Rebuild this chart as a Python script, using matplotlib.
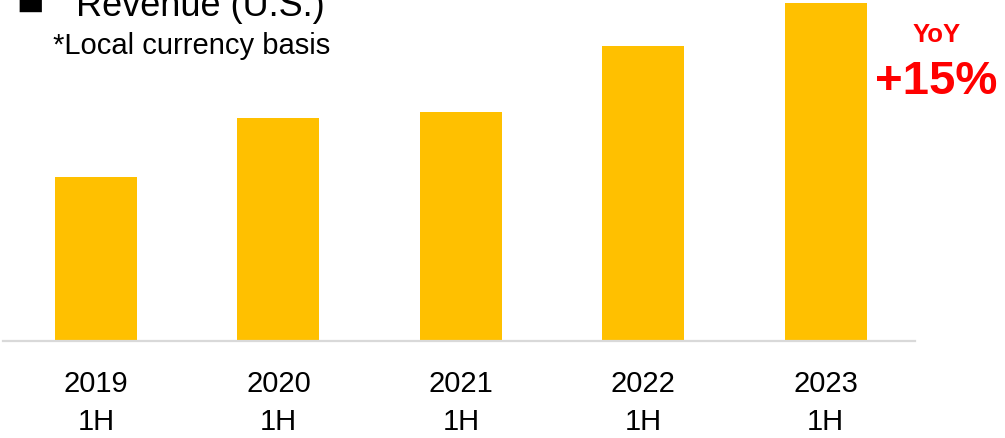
import numpy as np
import matplotlib.pyplot as plt

plt.rcParams['font.family'] = ['Liberation Sans', 'DejaVu Sans']

# First-half revenue, U.S. (local currency basis, relative units)
years = ['2019', '2020', '2021', '2022', '2023']
period = ['1H', '1H', '1H', '1H', '1H']
revenue = [164, 223, 229, 295, 338]
yoy_label = '+15%'

fig = plt.figure(figsize=(10.05, 4.39), dpi=100)
ax = fig.add_axes([3 / 1005, 97 / 439, 912 / 1005, 342 / 439])

x = np.arange(len(years))
ax.bar(x, revenue, width=0.45, color='#FFC000', zorder=2)

ax.set_xlim(-0.51, 4.49)
ax.set_ylim(0, 342)
ax.set_yticks([])
ax.set_xticks(x)
ax.set_xticklabels([f'{y}\n{p}' for y, p in zip(years, period)],
                   fontsize=21, linespacing=1.45, color='black')
ax.tick_params(axis='x', length=0, pad=20)

for side in ['top', 'left', 'right']:
    ax.spines[side].set_visible(False)
ax.spines['bottom'].set_color('#D9D9D9')
ax.spines['bottom'].set_linewidth(1.6)

# heading and note
fig.text(16 / 1005, 1 - 9 / 439, '\u25A0', fontsize=21, color='black',
         family=['DejaVu Sans'], ha='left', va='baseline')
fig.text(76 / 1005, 1 - 16 / 439, 'Revenue (U.S.)', fontsize=26,
         color='black', ha='left', va='baseline')
fig.text(53 / 1005, 1 - 54 / 439, '*Local currency basis', fontsize=21,
         color='black', ha='left', va='baseline')

# year-over-year callout
fig.text(937 / 1005, 1 - 42 / 439, 'YoY', fontsize=18.5, fontweight='bold',
         color='#FF0000', ha='center', va='baseline')
fig.text(936 / 1005, 1 - 94 / 439, yoy_label, fontsize=34, fontweight='bold',
         color='#FF0000', ha='center', va='baseline')

fig.savefig('out.png', dpi=100)
